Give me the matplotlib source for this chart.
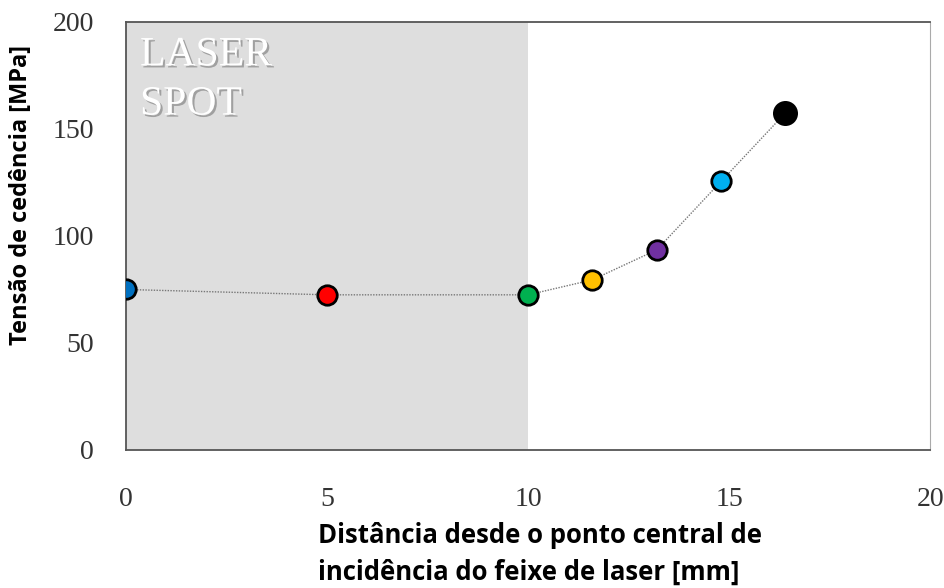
import numpy as np
import matplotlib.pyplot as plt
import matplotlib.patheffects as pe

# yield stress along the distance from the laser spot centre
dist = [0, 5, 10, 11.6, 13.2, 14.8, 16.4]
stress = [75, 72.5, 72.5, 79.5, 93.5, 125.5, 157.5]
colors = ['#0070C0', '#FF0000', '#00B050', '#FFC000', '#7030A0', '#00B0F0', '#000000']
sizes = [14, 14, 14, 14, 14, 14, 16]

xticks = [0, 5, 10, 15, 20]
yticks = [0, 50, 100, 150, 200]

fig = plt.figure(figsize=(9.45, 5.88), dpi=100)
ax = fig.add_axes([0.1333, 0.2347, 0.851, 0.728])

# laser spot zone
ax.axvspan(0, 10, color='#dedede', lw=0, zorder=0)
shadow = [pe.withSimplePatchShadow(offset=(1.5, -1.5), shadow_rgbFace='#777777', alpha=0.6)]
ax.text(0.35, 193.5, 'LASER', family='Liberation Serif', fontsize=30,
        color='white', va='top', ha='left', path_effects=shadow)
ax.text(0.35, 170.5, 'SPOT', family='Liberation Serif', fontsize=30,
        color='white', va='top', ha='left', path_effects=shadow)

ax.plot(dist, stress, ls=(0, (1, 1)), color='#777777', lw=1.0, zorder=2)
for x, y, c, s in zip(dist, stress, colors, sizes):
    ax.plot(x, y, 'o', ms=s, mfc=c, mec='black', mew=2, zorder=3)

ax.set_xlim(0, 20)
ax.set_ylim(0, 200)
ax.set_xticks(xticks)
ax.set_yticks(yticks)
ax.tick_params(length=0, labelsize=20, labelcolor='#333333')
ax.tick_params(axis='y', pad=23)
ax.tick_params(axis='x', pad=27)
for lab in ax.get_xticklabels() + ax.get_yticklabels():
    lab.set_family('Liberation Serif')

for side in ['left', 'bottom', 'top']:
    ax.spines[side].set_color('#555555')
    ax.spines[side].set_linewidth(1.3)
ax.spines['right'].set_color('#aaaaaa')

fig.text(0.022, 0.668, 'Tensão de cedência [MPa]', rotation=90, ha='center', va='center',
         family='Open Sans', weight='bold', fontsize=17)
fig.text(0.337, 0.058, 'Distância desde o ponto central de\nincidência do feixe de laser [mm]',
         ha='left', va='center', family='Open Sans', weight='bold', fontsize=18.5,
         linespacing=1.5)

fig.savefig('out.png', dpi=100)
